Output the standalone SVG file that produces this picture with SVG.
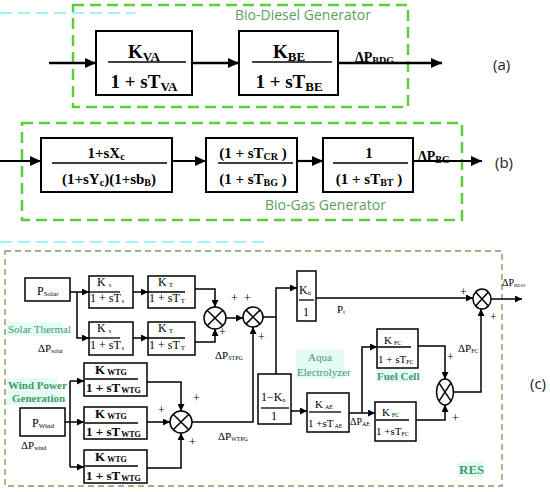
<svg xmlns="http://www.w3.org/2000/svg" width="550" height="492" viewBox="0 0 550 492">
<defs>
<marker id="ab" markerUnits="userSpaceOnUse" markerWidth="11" markerHeight="10" refX="11" refY="5" orient="auto"><path d="M0,0 L11,5 L0,10 z" fill="#000"/></marker>
<marker id="as" markerUnits="userSpaceOnUse" markerWidth="7" markerHeight="7" refX="7" refY="3.5" orient="auto"><path d="M0,0 L7,3.5 L0,7 z" fill="#000"/></marker>
<style>
.gb{fill:none;stroke:#5fcc3c;stroke-width:2.5;stroke-dasharray:11 6}
.gc{fill:none;stroke:#7f9f55;stroke-width:1.4;stroke-dasharray:6 4}
.cy{fill:none;stroke:#9ff3f5;stroke-width:2;stroke-dasharray:12 6}
.bx{fill:#fff;stroke:#000;stroke-width:2}
.bs{fill:#fff;stroke:#000;stroke-width:1.5}
.la{fill:none;stroke:#000;stroke-width:2.5;marker-end:url(#ab)}
.lb{fill:none;stroke:#000;stroke-width:2.2;marker-end:url(#ab)}
.ls{fill:none;stroke:#000;stroke-width:1.5;marker-end:url(#as)}
.ln{fill:none;stroke:#000;stroke-width:1.5}
.fr{stroke:#000;stroke-width:1.3}
.m{font-family:"Liberation Serif",serif;font-weight:bold;fill:#000}
.t{font-family:"Liberation Serif",serif;fill:#000}
.sans{font-family:"Open Sans","Liberation Sans",sans-serif;fill:#222}
.gt{font-family:"Open Sans","Liberation Sans",sans-serif;fill:#5c9e5c}
.gl{font-family:"Liberation Serif",serif;fill:#3f9a66}
.b{font-weight:bold}
.hl{fill:#e4fbf6}
.sm{fill:#fff;stroke:#000;stroke-width:1.5}
</style>
</defs>
<rect width="550" height="492" fill="#fff"/>

<!-- artifacts / group frames -->
<line class="cy" x1="0" y1="13" x2="135" y2="13"/>
<line class="cy" x1="0" y1="242" x2="265" y2="242"/>
<rect class="gb" x="73" y="5" width="335" height="102"/>
<rect class="gb" x="22" y="123" width="440" height="97"/>
<rect class="gc" x="5" y="251" width="497" height="235"/>

<text class="gt" x="235" y="20" font-size="14">Bio-Diesel Generator</text>
<text class="gt" x="265" y="210" font-size="14">Bio-Gas Generator</text>
<text class="sans" x="493" y="70" font-size="15">(a)</text>
<text class="sans" x="495" y="168" font-size="15">(b)</text>
<text class="sans" x="530" y="389" font-size="15">(c)</text>

<!-- (a) nodes -->
<g id="kva">
<rect class="bx" x="96" y="31" width="96" height="64"/>
<line class="fr" x1="108" y1="62" x2="186" y2="62" stroke-width="1.6"/>
<text class="m" x="144" y="58" font-size="19" text-anchor="middle">K<tspan font-size="13" dy="3">VA</tspan></text>
<text class="m" x="144" y="88" font-size="19" text-anchor="middle">1 + sT<tspan font-size="13" dy="3">VA</tspan></text>
</g>
<g id="kbe">
<rect class="bx" x="239" y="31" width="99" height="64"/>
<line class="fr" x1="252" y1="62" x2="332" y2="62" stroke-width="1.6"/>
<text class="m" x="289" y="58" font-size="19" text-anchor="middle">K<tspan font-size="13" dy="3">BE</tspan></text>
<text class="m" x="289" y="88" font-size="19" text-anchor="middle">1 + sT<tspan font-size="13" dy="3">BE</tspan></text>
</g>
<text class="m" x="355" y="62" font-size="14">ΔP<tspan font-size="10" dy="2">BDG</tspan></text>

<!-- (b) nodes -->
<g id="bg1">
<rect class="bx" x="41" y="138" width="131" height="54"/>
<line class="fr" x1="52" y1="163" x2="167" y2="163"/>
<text class="m" x="106" y="158" font-size="15" text-anchor="middle">1+sX<tspan font-size="10" dy="2">c</tspan></text>
<text class="m" x="109" y="184" font-size="15" text-anchor="middle">(1+sY<tspan font-size="10" dy="2">c</tspan><tspan dy="-2">)(1+sb</tspan><tspan font-size="10" dy="2">B</tspan><tspan dy="-2">)</tspan></text>
</g>
<g id="bg2">
<rect class="bx" x="206" y="138" width="91" height="54"/>
<line class="fr" x1="218" y1="163" x2="293" y2="163"/>
<text class="m" x="253" y="158" font-size="15" text-anchor="middle">(1 + sT<tspan font-size="10" dy="2">CR</tspan><tspan dy="-2"> )</tspan></text>
<text class="m" x="253" y="184" font-size="15" text-anchor="middle">(1 + sT<tspan font-size="10" dy="2">BG</tspan><tspan dy="-2"> )</tspan></text>
</g>
<g id="bg3">
<rect class="bx" x="323" y="138" width="90" height="54"/>
<line class="fr" x1="333" y1="163" x2="408" y2="163"/>
<text class="m" x="369" y="158" font-size="15" text-anchor="middle">1</text>
<text class="m" x="369" y="184" font-size="15" text-anchor="middle">(1 + sT<tspan font-size="10" dy="2">BT</tspan><tspan dy="-2"> )</tspan></text>
</g>
<text class="m" x="418" y="161" font-size="14">ΔP<tspan font-size="10" dy="2">BG</tspan></text>

<!-- (c) labels with highlight -->
<rect class="hl" x="7" y="322" width="56" height="14"/>
<text class="gl" x="8" y="333" font-size="11">Solar Thermal</text>
<rect class="hl" x="7" y="378" width="50" height="27"/>
<text class="gl b" x="8" y="389" font-size="11">Wind Power</text>
<text class="gl b" x="12" y="402" font-size="11">Generation</text>
<rect class="hl" x="296" y="350" width="48" height="29"/>
<text class="gl" x="320" y="361" font-size="11" text-anchor="middle">Aqua</text>
<text class="gl" x="297" y="376" font-size="11">Electrolyzer</text>
<rect class="hl" x="376" y="369" width="38" height="13"/>
<text class="gl b" x="377" y="380" font-size="11">Fuel Cell</text>
<rect class="hl" x="458" y="462" width="25" height="15"/>
<text class="gl b" x="459" y="474" font-size="13">RES</text>

<!-- (c) nodes -->
<g id="psolar">
<rect class="bs" x="25" y="278" width="45" height="23"/>
<text class="t" x="37" y="295" font-size="12">P<tspan font-size="7" dy="1">Solar</tspan></text>
</g>
<g id="ks1">
<rect class="bs" x="89" y="276" width="44" height="32"/>
<line class="fr" x1="89" y1="292" x2="120" y2="292" stroke-width="1"/>
<text class="t" x="97" y="286" font-size="12">K<tspan font-size="6" dx="3" dy="1">s</tspan></text>
<text class="t" x="90" y="302" font-size="12">1 + sT<tspan font-size="6" dx="1" dy="1">s</tspan></text>
</g>
<g id="kt1">
<rect class="bs" x="148" y="276" width="47" height="32"/>
<line class="fr" x1="148" y1="292" x2="185" y2="292" stroke-width="1"/>
<text class="t" x="158" y="286" font-size="12">K<tspan font-size="7" dx="2" dy="1">T</tspan></text>
<text class="t" x="149" y="302" font-size="12">1 + sT<tspan font-size="7" dx="1" dy="1">T</tspan></text>
</g>
<g id="ks2">
<rect class="bs" x="89" y="322" width="44" height="33"/>
<line class="fr" x1="89" y1="338" x2="120" y2="338" stroke-width="1"/>
<text class="t" x="97" y="332" font-size="12">K<tspan font-size="6" dx="3" dy="1">s</tspan></text>
<text class="t" x="90" y="349" font-size="12">1 + sT<tspan font-size="6" dx="1" dy="1">s</tspan></text>
</g>
<g id="kt2">
<rect class="bs" x="148" y="322" width="47" height="33"/>
<line class="fr" x1="148" y1="338" x2="185" y2="338" stroke-width="1"/>
<text class="t" x="158" y="332" font-size="12">K<tspan font-size="7" dx="2" dy="1">T</tspan></text>
<text class="t" x="149" y="349" font-size="12">1 + sT<tspan font-size="7" dx="1" dy="1">T</tspan></text>
</g>
<g id="sum1"><circle class="sm" cx="215" cy="318" r="11"/><path class="ln" d="M207.2,310.2 L222.8,325.8 M222.8,310.2 L207.2,325.8"/></g>
<g id="sum2"><circle class="sm" cx="253" cy="317" r="10"/><path class="ln" d="M245.9,309.9 L260.1,324.1 M260.1,309.9 L245.9,324.1"/></g>
<g id="kn">
<rect class="bs" x="297" y="271" width="19" height="50"/>
<line class="fr" x1="299" y1="300" x2="314" y2="300" stroke-width="1"/>
<text class="t" x="299" y="294" font-size="12">K<tspan font-size="6" dy="1">n</tspan></text>
<text class="t" x="306" y="316" font-size="12" text-anchor="middle">1</text>
</g>
<g id="pwind">
<rect class="bs" x="20" y="408" width="45" height="28"/>
<text class="t" x="32" y="427" font-size="12">P<tspan font-size="7" dy="1">Wind</tspan></text>
</g>
<g id="kw1">
<rect class="bs" x="84" y="363" width="63" height="33"/>
<line class="fr" x1="85" y1="379" x2="138" y2="379" stroke-width="1"/>
<text class="m" x="95" y="374" font-size="13">K<tspan font-size="8" dx="2" dy="1">WTG</tspan></text>
<text class="m" x="86" y="392" font-size="13">1 + sT<tspan font-size="8" dx="1" dy="1">WTG</tspan></text>
</g>
<g id="kw2">
<rect class="bs" x="84" y="407" width="63" height="32"/>
<line class="fr" x1="85" y1="423" x2="138" y2="423" stroke-width="1"/>
<text class="m" x="95" y="418" font-size="13">K<tspan font-size="8" dx="2" dy="1">WTG</tspan></text>
<text class="m" x="86" y="436" font-size="13">1 + sT<tspan font-size="8" dx="1" dy="1">WTG</tspan></text>
</g>
<g id="kw3">
<rect class="bs" x="84" y="450" width="63" height="33"/>
<line class="fr" x1="85" y1="466" x2="138" y2="466" stroke-width="1"/>
<text class="m" x="95" y="461" font-size="13">K<tspan font-size="8" dx="2" dy="1">WTG</tspan></text>
<text class="m" x="86" y="480" font-size="13">1 + sT<tspan font-size="8" dx="1" dy="1">WTG</tspan></text>
</g>
<g id="sumw"><circle class="sm" cx="181" cy="422" r="11"/><path class="ln" d="M173.2,414.2 L188.8,429.8 M188.8,414.2 L173.2,429.8"/></g>
<g id="onekn">
<rect class="bs" x="258" y="374" width="33" height="50"/>
<line class="fr" x1="261" y1="408" x2="289" y2="408" stroke-width="1"/>
<text class="t" x="261" y="401" font-size="12">1−K<tspan font-size="6" dy="1">n</tspan></text>
<text class="t" x="274" y="420" font-size="12" text-anchor="middle">1</text>
</g>
<g id="kae">
<rect class="bs" x="307" y="393" width="42" height="39"/>
<line class="fr" x1="309" y1="412" x2="341" y2="412" stroke-width="1"/>
<text class="t" x="315" y="408" font-size="11">K<tspan font-size="6" dx="2" dy="1">AE</tspan></text>
<text class="t" x="308" y="427" font-size="11">1 +sT<tspan font-size="6" dx="1" dy="1">AE</tspan></text>
</g>
<g id="kfc1">
<rect class="bs" x="377" y="329" width="41" height="39"/>
<line class="fr" x1="378" y1="347" x2="411" y2="347" stroke-width="1"/>
<text class="t" x="384" y="344" font-size="11">K<tspan font-size="6" dx="2" dy="1">FC</tspan></text>
<text class="t" x="378" y="363" font-size="11">1 + sT<tspan font-size="6" dy="1">FC</tspan></text>
</g>
<g id="kfc2">
<rect class="bs" x="375" y="402" width="41" height="39"/>
<line class="fr" x1="376" y1="420" x2="409" y2="420" stroke-width="1"/>
<text class="t" x="382" y="416" font-size="11">K<tspan font-size="6" dx="2" dy="1">FC</tspan></text>
<text class="t" x="376" y="435" font-size="11">1 +sT<tspan font-size="6" dy="1">FC</tspan></text>
</g>
<g id="sum3"><ellipse class="sm" cx="482" cy="299" rx="9" ry="10"/><path class="ln" d="M475.6,291.9 L488.4,306.1 M488.4,291.9 L475.6,306.1"/></g>
<g id="sum4"><ellipse class="sm" cx="445" cy="392" rx="8.5" ry="13"/><path class="ln" d="M439,382.8 L451,401.2 M451,382.8 L439,401.2"/></g>

<!-- (c) signal labels -->
<g class="t" font-size="11">
<text x="38" y="352">ΔP<tspan font-size="6" dy="1">solar</tspan></text>
<text x="21" y="449">ΔP<tspan font-size="6" dy="1">wind</tspan></text>
<text x="215" y="359">ΔP<tspan font-size="6" dy="1">STPG</tspan></text>
<text x="218" y="440">ΔP<tspan font-size="6" dy="1">WTPG</tspan></text>
<text x="350" y="425" font-size="10">ΔP<tspan font-size="6" dy="1">AE</tspan></text>
<text x="458" y="352">ΔP<tspan font-size="6" dy="1">FC</tspan></text>
<text x="337" y="313">P<tspan font-size="6" dy="1">t</tspan></text>
<text x="502" y="286" font-size="10">ΔP<tspan font-size="5" dy="1">RES1</tspan></text>
<text x="231" y="302" font-size="12">+</text>
<text x="244" y="302" font-size="12">+</text>
<text x="219" y="336" font-size="12">+</text>
<text x="258" y="341" font-size="12">+</text>
<text x="193" y="402" font-size="12">+</text>
<text x="158" y="414" font-size="12">+</text>
<text x="189" y="446" font-size="12">+</text>
<text x="460" y="296" font-size="12">+</text>
<text x="490" y="321" font-size="12">+</text>
<text x="447" y="361" font-size="12">+</text>
<text x="452" y="422" font-size="12">+</text>
</g>

<!-- connectors -->
<g id="connectors">
<line class="la" x1="49" y1="63" x2="96" y2="63"/>
<line class="la" x1="192" y1="63" x2="239" y2="63"/>
<line class="la" x1="338" y1="63" x2="442" y2="63"/>
<line class="lb" x1="0" y1="161" x2="41" y2="161"/>
<line class="lb" x1="172" y1="161" x2="206" y2="161"/>
<line class="lb" x1="297" y1="161" x2="323" y2="161"/>
<line class="lb" x1="413" y1="161" x2="482" y2="161"/>

<line class="ls" x1="70" y1="292" x2="89" y2="292"/>
<polyline class="ls" points="77,292 77,338 89,338"/>
<line class="ls" x1="133" y1="292" x2="148" y2="292"/>
<line class="ls" x1="133" y1="338" x2="148" y2="338"/>
<polyline class="ls" points="195,289 215,289 215,307"/>
<polyline class="ls" points="195,342 215,342 215,329"/>
<line class="ls" x1="226" y1="318" x2="243" y2="318"/>
<polyline class="ls" points="263,317 276,317 276,288 297,288"/>
<line class="ln" x1="276" y1="317" x2="276" y2="374"/>
<polyline class="ls" points="192,422 253,422 253,327"/>
<line class="ls" x1="316" y1="298" x2="473" y2="298"/>
<line class="ls" x1="291" y1="411" x2="307" y2="411"/>
<line class="ls" x1="349" y1="413" x2="375" y2="413"/>
<polyline class="ls" points="362,413 362,347 377,347"/>
<polyline class="ls" points="418,346 445,346 445,379"/>
<polyline class="ls" points="416,420 445,420 445,405"/>
<polyline class="ls" points="453.5,392 481,392 481,309"/>
<line class="ls" x1="491" y1="299" x2="522" y2="299"/>
<line class="ls" x1="65" y1="422" x2="84" y2="422"/>
<line class="ln" x1="70" y1="381" x2="70" y2="467"/>
<line class="ls" x1="70" y1="381" x2="84" y2="381"/>
<line class="ls" x1="70" y1="467" x2="84" y2="467"/>
<polyline class="ls" points="147,382 181,382 181,411"/>
<line class="ls" x1="147" y1="422" x2="170" y2="422"/>
<polyline class="ls" points="147,468 181,468 181,433"/>
</g>
</svg>
